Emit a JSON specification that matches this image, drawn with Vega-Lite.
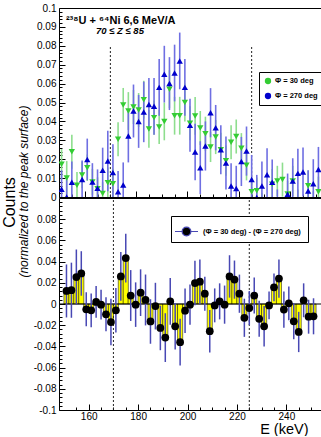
{
  "$schema": "https://vega.github.io/schema/vega-lite/v6.json",
  "padding": {"left": 0, "top": 2, "right": 0, "bottom": 0},
  "spacing": 1,
  "bounds": "flush",
  "background": "white",
  "config": {
    "view": {"stroke": "black", "strokeWidth": 1},
    "axis": {
      "labelFont": "Liberation Sans",
      "labelFontSize": 10,
      "labelColor": "black",
      "domainColor": "black",
      "domainWidth": 1,
      "tickColor": "black",
      "tickWidth": 1,
      "titleFont": "Liberation Sans",
      "titleColor": "black",
      "titleFontWeight": "normal",
      "labelOverlap": false,
      "labelFlush": false,
      "grid": false
    },
    "legend": {
      "labelFont": "Liberation Sans",
      "labelFontWeight": "bold",
      "labelColor": "black",
      "strokeColor": "black",
      "fillColor": "white"
    }
  },
  "datasets": {
    "spectra": [
      {"E": 151, "phi": "Φ = 30 deg", "v": 0.0173, "err": 0.008},
      {"E": 153, "phi": "Φ = 30 deg", "v": 0.0100, "err": 0.009},
      {"E": 155, "phi": "Φ = 30 deg", "v": 0.0240, "err": 0.009},
      {"E": 157, "phi": "Φ = 30 deg", "v": 0.0062, "err": 0.007},
      {"E": 159, "phi": "Φ = 30 deg", "v": 0.0116, "err": 0.007},
      {"E": 161, "phi": "Φ = 30 deg", "v": 0.0155, "err": 0.007},
      {"E": 163, "phi": "Φ = 30 deg", "v": 0.0079, "err": 0.007},
      {"E": 165, "phi": "Φ = 30 deg", "v": 0.0044, "err": 0.006},
      {"E": 167, "phi": "Φ = 30 deg", "v": 0.0018, "err": 0.006},
      {"E": 169, "phi": "Φ = 30 deg", "v": 0.0076, "err": 0.008},
      {"E": 171, "phi": "Φ = 30 deg", "v": 0.0070, "err": 0.008},
      {"E": 173, "phi": "Φ = 30 deg", "v": 0.0305, "err": 0.009},
      {"E": 175, "phi": "Φ = 30 deg", "v": 0.0487, "err": 0.009},
      {"E": 177, "phi": "Φ = 30 deg", "v": 0.0455, "err": 0.010},
      {"E": 179, "phi": "Φ = 30 deg", "v": 0.0476, "err": 0.009},
      {"E": 181, "phi": "Φ = 30 deg", "v": 0.0460, "err": 0.009},
      {"E": 183, "phi": "Φ = 30 deg", "v": 0.0515, "err": 0.010},
      {"E": 185, "phi": "Φ = 30 deg", "v": 0.0360, "err": 0.010},
      {"E": 187, "phi": "Φ = 30 deg", "v": 0.0420, "err": 0.009},
      {"E": 189, "phi": "Φ = 30 deg", "v": 0.0370, "err": 0.009},
      {"E": 191, "phi": "Φ = 30 deg", "v": 0.0400, "err": 0.010},
      {"E": 193, "phi": "Φ = 30 deg", "v": 0.0570, "err": 0.010},
      {"E": 195, "phi": "Φ = 30 deg", "v": 0.0430, "err": 0.010},
      {"E": 197, "phi": "Φ = 30 deg", "v": 0.0430, "err": 0.010},
      {"E": 199, "phi": "Φ = 30 deg", "v": 0.0500, "err": 0.010},
      {"E": 201, "phi": "Φ = 30 deg", "v": 0.0390, "err": 0.009},
      {"E": 203, "phi": "Φ = 30 deg", "v": 0.0429, "err": 0.010},
      {"E": 205, "phi": "Φ = 30 deg", "v": 0.0365, "err": 0.009},
      {"E": 207, "phi": "Φ = 30 deg", "v": 0.0335, "err": 0.009},
      {"E": 209, "phi": "Φ = 30 deg", "v": 0.0265, "err": 0.008},
      {"E": 211, "phi": "Φ = 30 deg", "v": 0.0317, "err": 0.009},
      {"E": 213, "phi": "Φ = 30 deg", "v": 0.0250, "err": 0.009},
      {"E": 215, "phi": "Φ = 30 deg", "v": 0.0192, "err": 0.008},
      {"E": 217, "phi": "Φ = 30 deg", "v": 0.0290, "err": 0.009},
      {"E": 219, "phi": "Φ = 30 deg", "v": 0.0320, "err": 0.009},
      {"E": 221, "phi": "Φ = 30 deg", "v": 0.0258, "err": 0.008},
      {"E": 223, "phi": "Φ = 30 deg", "v": 0.0168, "err": 0.008},
      {"E": 225, "phi": "Φ = 30 deg", "v": 0.0028, "err": 0.007},
      {"E": 227, "phi": "Φ = 30 deg", "v": 0.0033, "err": 0.007},
      {"E": 229, "phi": "Φ = 30 deg", "v": -0.0060, "err": 0.008},
      {"E": 231, "phi": "Φ = 30 deg", "v": -0.0080, "err": 0.008},
      {"E": 233, "phi": "Φ = 30 deg", "v": 0.0068, "err": 0.008},
      {"E": 235, "phi": "Φ = 30 deg", "v": 0.0085, "err": 0.008},
      {"E": 237, "phi": "Φ = 30 deg", "v": 0.0092, "err": 0.009},
      {"E": 239, "phi": "Φ = 30 deg", "v": 0.0016, "err": 0.007},
      {"E": 241, "phi": "Φ = 30 deg", "v": 0.0085, "err": 0.008},
      {"E": 243, "phi": "Φ = 30 deg", "v": -0.0040, "err": 0.008},
      {"E": 245, "phi": "Φ = 30 deg", "v": -0.0120, "err": 0.008},
      {"E": 247, "phi": "Φ = 30 deg", "v": 0.0060, "err": 0.008},
      {"E": 249, "phi": "Φ = 30 deg", "v": -0.0050, "err": 0.008},
      {"E": 251, "phi": "Φ = 30 deg", "v": 0.0028, "err": 0.008},
      {"E": 151, "phi": "Φ = 270 deg", "v": 0.0041, "err": 0.010},
      {"E": 153, "phi": "Φ = 270 deg", "v": 0.0000, "err": 0.010},
      {"E": 155, "phi": "Φ = 270 deg", "v": 0.0078, "err": 0.011},
      {"E": 157, "phi": "Φ = 270 deg", "v": -0.0120, "err": 0.010},
      {"E": 159, "phi": "Φ = 270 deg", "v": 0.0093, "err": 0.010},
      {"E": 161, "phi": "Φ = 270 deg", "v": 0.0199, "err": 0.011},
      {"E": 163, "phi": "Φ = 270 deg", "v": 0.0079, "err": 0.010},
      {"E": 165, "phi": "Φ = 270 deg", "v": 0.0046, "err": 0.010},
      {"E": 167, "phi": "Φ = 270 deg", "v": 0.0141, "err": 0.012},
      {"E": 169, "phi": "Φ = 270 deg", "v": 0.0190, "err": 0.016},
      {"E": 171, "phi": "Φ = 270 deg", "v": 0.0129, "err": 0.015},
      {"E": 173, "phi": "Φ = 270 deg", "v": 0.0028, "err": 0.011},
      {"E": 175, "phi": "Φ = 270 deg", "v": 0.0063, "err": 0.012},
      {"E": 177, "phi": "Φ = 270 deg", "v": 0.0323, "err": 0.014},
      {"E": 179, "phi": "Φ = 270 deg", "v": 0.0455, "err": 0.014},
      {"E": 181, "phi": "Φ = 270 deg", "v": 0.0400, "err": 0.014},
      {"E": 183, "phi": "Φ = 270 deg", "v": 0.0450, "err": 0.016},
      {"E": 185, "phi": "Φ = 270 deg", "v": 0.0490, "err": 0.014},
      {"E": 187, "phi": "Φ = 270 deg", "v": 0.0480, "err": 0.015},
      {"E": 189, "phi": "Φ = 270 deg", "v": 0.0580, "err": 0.015},
      {"E": 191, "phi": "Φ = 270 deg", "v": 0.0650, "err": 0.015},
      {"E": 193, "phi": "Φ = 270 deg", "v": 0.0600, "err": 0.014},
      {"E": 195, "phi": "Φ = 270 deg", "v": 0.0656, "err": 0.015},
      {"E": 197, "phi": "Φ = 270 deg", "v": 0.0720, "err": 0.015},
      {"E": 199, "phi": "Φ = 270 deg", "v": 0.0580, "err": 0.015},
      {"E": 201, "phi": "Φ = 270 deg", "v": 0.0380, "err": 0.014},
      {"E": 203, "phi": "Φ = 270 deg", "v": 0.0238, "err": 0.015},
      {"E": 205, "phi": "Φ = 270 deg", "v": 0.0155, "err": 0.014},
      {"E": 207, "phi": "Φ = 270 deg", "v": 0.0270, "err": 0.013},
      {"E": 209, "phi": "Φ = 270 deg", "v": 0.0446, "err": 0.013},
      {"E": 211, "phi": "Φ = 270 deg", "v": 0.0367, "err": 0.012},
      {"E": 213, "phi": "Φ = 270 deg", "v": 0.0250, "err": 0.013},
      {"E": 215, "phi": "Φ = 270 deg", "v": 0.0180, "err": 0.014},
      {"E": 217, "phi": "Φ = 270 deg", "v": 0.0058, "err": 0.012},
      {"E": 219, "phi": "Φ = 270 deg", "v": 0.0045, "err": 0.012},
      {"E": 221, "phi": "Φ = 270 deg", "v": 0.0188, "err": 0.013},
      {"E": 223, "phi": "Φ = 270 deg", "v": 0.0243, "err": 0.013},
      {"E": 225, "phi": "Φ = 270 deg", "v": 0.0092, "err": 0.013},
      {"E": 227, "phi": "Φ = 270 deg", "v": -0.0003, "err": 0.012},
      {"E": 229, "phi": "Φ = 270 deg", "v": 0.0058, "err": 0.013},
      {"E": 231, "phi": "Φ = 270 deg", "v": 0.0118, "err": 0.014},
      {"E": 233, "phi": "Φ = 270 deg", "v": 0.0078, "err": 0.012},
      {"E": 235, "phi": "Φ = 270 deg", "v": -0.0060, "err": 0.010},
      {"E": 237, "phi": "Φ = 270 deg", "v": -0.0130, "err": 0.010},
      {"E": 239, "phi": "Φ = 270 deg", "v": 0.0014, "err": 0.011},
      {"E": 241, "phi": "Φ = 270 deg", "v": 0.0085, "err": 0.012},
      {"E": 243, "phi": "Φ = 270 deg", "v": 0.0125, "err": 0.013},
      {"E": 245, "phi": "Φ = 270 deg", "v": 0.0132, "err": 0.013},
      {"E": 247, "phi": "Φ = 270 deg", "v": 0.0032, "err": 0.011},
      {"E": 249, "phi": "Φ = 270 deg", "v": 0.0070, "err": 0.013},
      {"E": 251, "phi": "Φ = 270 deg", "v": 0.0145, "err": 0.012}
    ],
    "difference": [
      {"E": 151, "d": 0.0123, "err": 0.025},
      {"E": 153, "d": 0.0130, "err": 0.026},
      {"E": 155, "d": 0.0254, "err": 0.026},
      {"E": 157, "d": 0.0288, "err": 0.021},
      {"E": 159, "d": -0.0050, "err": 0.016},
      {"E": 161, "d": -0.0060, "err": 0.016},
      {"E": 163, "d": 0.0020, "err": 0.015},
      {"E": 165, "d": -0.0006, "err": 0.014},
      {"E": 167, "d": -0.0097, "err": 0.016},
      {"E": 169, "d": -0.0170, "err": 0.022},
      {"E": 171, "d": -0.0060, "err": 0.021},
      {"E": 173, "d": 0.0260, "err": 0.023},
      {"E": 175, "d": 0.0433, "err": 0.023},
      {"E": 177, "d": 0.0080, "err": 0.024},
      {"E": 179, "d": -0.0006, "err": 0.021},
      {"E": 181, "d": 0.0107, "err": 0.022},
      {"E": 183, "d": 0.0038, "err": 0.024},
      {"E": 185, "d": -0.0165, "err": 0.021},
      {"E": 187, "d": -0.0020, "err": 0.022},
      {"E": 189, "d": -0.0226, "err": 0.021},
      {"E": 191, "d": -0.0317, "err": 0.023},
      {"E": 193, "d": 0.0025, "err": 0.022},
      {"E": 195, "d": -0.0210, "err": 0.022},
      {"E": 197, "d": -0.0360, "err": 0.022},
      {"E": 199, "d": -0.0063, "err": 0.021},
      {"E": 201, "d": -0.0006, "err": 0.019},
      {"E": 203, "d": 0.0198, "err": 0.021},
      {"E": 205, "d": 0.0210, "err": 0.021},
      {"E": 207, "d": 0.0097, "err": 0.016},
      {"E": 209, "d": -0.0257, "err": 0.020},
      {"E": 211, "d": -0.0013, "err": 0.016},
      {"E": 213, "d": 0.0025, "err": 0.017},
      {"E": 215, "d": -0.0006, "err": 0.018},
      {"E": 217, "d": 0.0260, "err": 0.020},
      {"E": 219, "d": 0.0230, "err": 0.018},
      {"E": 221, "d": 0.0097, "err": 0.018},
      {"E": 223, "d": -0.0130, "err": 0.018},
      {"E": 225, "d": -0.0038, "err": 0.016},
      {"E": 227, "d": 0.0080, "err": 0.017},
      {"E": 229, "d": -0.0140, "err": 0.017},
      {"E": 231, "d": -0.0210, "err": 0.019},
      {"E": 233, "d": -0.0013, "err": 0.013},
      {"E": 235, "d": 0.0157, "err": 0.013},
      {"E": 237, "d": 0.0240, "err": 0.018},
      {"E": 239, "d": -0.0053, "err": 0.017},
      {"E": 241, "d": 0.0006, "err": 0.016},
      {"E": 243, "d": -0.0163, "err": 0.017},
      {"E": 245, "d": -0.0264, "err": 0.019},
      {"E": 247, "d": 0.0035, "err": 0.016},
      {"E": 249, "d": -0.0120, "err": 0.016},
      {"E": 251, "d": -0.0116, "err": 0.017}
    ],
    "gates": [{"E": 170}, {"E": 225}]
  },
  "vconcat": [
    {
      "width": 262,
      "height": 189,
      "resolve": {"scale": {"color": "independent"}, "axis": {"x": "independent", "y": "independent"}},
      "layer": [
        {
          "data": {"name": "gates"},
          "mark": {"type": "rule", "strokeDash": [2, 2], "color": "#222", "strokeWidth": 1},
          "encoding": {
            "x": {
              "field": "E",
              "type": "quantitative",
              "axis": {"orient": "bottom", "values": [160, 180, 200, 220, 240], "tickSize": -6, "labels": false, "domain": false, "title": null}
            },
            "y": {
              "datum": 0,
              "axis": {"orient": "left", "values": [0.01, 0.02, 0.03, 0.04, 0.05, 0.06, 0.07, 0.08, 0.09], "tickSize": -6, "labels": false, "domain": false, "title": null}
            },
            "y2": {"datum": 0.08}
          }
        },
        {
          "data": {"name": "spectra"},
          "mark": {"type": "errorbar", "thickness": 1.6, "clip": true},
          "encoding": {
            "x": {
              "field": "E",
              "type": "quantitative",
              "axis": {"orient": "bottom", "values": [155, 165, 170, 175, 185, 190, 195, 205, 210, 215, 225, 230, 235, 245, 250], "tickSize": -3, "labels": false, "domain": false, "title": null}
            },
            "y": {
              "field": "v",
              "type": "quantitative",
              "axis": {
                "orient": "left",
                "values": [0.002, 0.004, 0.006, 0.008, 0.012, 0.014, 0.016, 0.018, 0.022, 0.024, 0.026, 0.028, 0.032, 0.034, 0.036, 0.038, 0.042, 0.044, 0.046, 0.048, 0.052, 0.054, 0.056, 0.058, 0.062, 0.064, 0.066, 0.068, 0.072, 0.074, 0.076, 0.078, 0.082, 0.084, 0.086, 0.088, 0.092, 0.094, 0.096, 0.098],
                "tickSize": -3,
                "labels": false,
                "domain": false,
                "title": null
              }
            },
            "yError": {"field": "err"},
            "color": {
              "field": "phi",
              "type": "nominal",
              "scale": {"domain": ["Φ = 30 deg", "Φ = 270 deg"], "range": ["#8ede8e", "#6f6fe2"]},
              "legend": null
            }
          }
        },
        {
          "data": {"name": "spectra"},
          "mark": {"type": "point", "filled": true, "size": 40, "opacity": 1, "clip": true},
          "encoding": {
            "x": {
              "field": "E",
              "type": "quantitative",
              "scale": {"domain": [150, 252], "nice": false, "zero": false},
              "axis": {"orient": "bottom", "ticks": false, "labels": false, "title": null}
            },
            "y": {
              "field": "v",
              "type": "quantitative",
              "scale": {"domain": [0, 0.1], "nice": false, "zero": false},
              "axis": {
                "orient": "left",
                "values": [0, 0.01, 0.02, 0.03, 0.04, 0.05, 0.06, 0.07, 0.08, 0.09, 0.1],
                "ticks": false,
                "labelExpr": "'' + datum.value",
                "labelPadding": 3,
                "title": "(normalized to the peak surface)",
                "titleFontSize": 12,
                "titleFontStyle": "italic",
                "titleAngle": -90,
                "titleAlign": "center",
                "titleBaseline": "middle",
                "titleX": -36,
                "titleY": 183
              }
            },
            "color": {
              "field": "phi",
              "type": "nominal",
              "scale": {"domain": ["Φ = 30 deg", "Φ = 270 deg"], "range": ["#33cc33", "#0000cc"]},
              "legend": {
                "orient": "none",
                "legendX": 200,
                "legendY": 64,
                "title": null,
                "labelFontSize": 7.5,
                "symbolSize": 40,
                "labelOffset": 3,
                "padding": 5,
                "rowPadding": 7
              }
            },
            "shape": {
              "field": "phi",
              "type": "nominal",
              "scale": {"domain": ["Φ = 30 deg", "Φ = 270 deg"], "range": ["triangle-down", "triangle-up"]}
            }
          }
        },
        {
          "data": {"values": [{}]},
          "mark": {"type": "text", "font": "Liberation Sans", "fontWeight": "bold", "fontSize": 11, "align": "left", "baseline": "alphabetic", "color": "black"},
          "encoding": {
            "x": {"datum": 152.7, "axis": null},
            "y": {"datum": 0.0915, "axis": null},
            "text": {"value": "²³⁸U + ⁶⁴Ni   6,6 MeV/A"}
          }
        },
        {
          "data": {"values": [{}]},
          "mark": {"type": "text", "font": "Liberation Sans", "fontWeight": "bold", "fontStyle": "italic", "fontSize": 9.5, "align": "left", "baseline": "alphabetic", "color": "black"},
          "encoding": {
            "x": {"datum": 164.4, "axis": null},
            "y": {"datum": 0.0862, "axis": null},
            "text": {"value": "70 ≤ Z ≤ 85"}
          }
        }
      ]
    },
    {
      "width": 262,
      "height": 212,
      "resolve": {"axis": {"x": "independent", "y": "independent"}},
      "layer": [
        {
          "data": {"name": "difference"},
          "mark": {"type": "bar", "width": 5.14, "fill": "#ffff00", "stroke": "black", "strokeWidth": 0.5},
          "encoding": {
            "x": {
              "field": "E",
              "type": "quantitative",
              "scale": {"domain": [150, 252], "nice": false, "zero": false},
              "axis": {
                "orient": "bottom",
                "values": [160, 180, 200, 220, 240],
                "ticks": false,
                "labelExpr": "'' + datum.value",
                "labelPadding": 1,
                "title": "E (keV)",
                "titleFontSize": 14.5,
                "titleAlign": "right",
                "titleBaseline": "alphabetic",
                "titleX": 249,
                "titleY": 23
              }
            },
            "y": {
              "field": "d",
              "type": "quantitative",
              "scale": {"domain": [-0.1, 0.1], "nice": false, "zero": false},
              "axis": {
                "orient": "left",
                "values": [-0.1, -0.08, -0.06, -0.04, -0.02, 0, 0.02, 0.04, 0.06, 0.08],
                "ticks": false,
                "labelExpr": "'' + datum.value",
                "labelPadding": 3,
                "title": "Counts",
                "titleFontSize": 16,
                "titleAngle": -90,
                "titleAlign": "center",
                "titleBaseline": "middle",
                "titleX": -50,
                "titleY": 4
              }
            }
          }
        },
        {
          "data": {"values": [{}]},
          "mark": {"type": "rule", "color": "black", "strokeWidth": 1},
          "encoding": {"y": {"datum": 0, "axis": null}}
        },
        {
          "data": {"name": "gates"},
          "mark": {"type": "rule", "strokeDash": [2, 2], "color": "#222", "strokeWidth": 1},
          "encoding": {
            "x": {
              "field": "E",
              "type": "quantitative",
              "axis": {"orient": "bottom", "values": [160, 180, 200, 220, 240], "tickSize": -6, "labels": false, "domain": false, "title": null}
            },
            "y": {
              "datum": -0.1,
              "axis": {"orient": "left", "values": [-0.08, -0.06, -0.04, -0.02, 0, 0.02, 0.04, 0.06, 0.08], "tickSize": -6, "labels": false, "domain": false, "title": null}
            },
            "y2": {"datum": 0.1}
          }
        },
        {
          "data": {"name": "difference"},
          "mark": {"type": "errorbar", "thickness": 1.5, "color": "#4848b4"},
          "encoding": {
            "x": {
              "field": "E",
              "type": "quantitative",
              "axis": {"orient": "bottom", "values": [155, 165, 170, 175, 185, 190, 195, 205, 210, 215, 225, 230, 235, 245, 250], "tickSize": -3, "labels": false, "domain": false, "title": null}
            },
            "y": {
              "field": "d",
              "type": "quantitative",
              "axis": {
                "orient": "left",
                "values": [-0.096, -0.092, -0.088, -0.084, -0.076, -0.072, -0.068, -0.064, -0.056, -0.052, -0.048, -0.044, -0.036, -0.032, -0.028, -0.024, -0.016, -0.012, -0.008, -0.004, 0.004, 0.008, 0.012, 0.016, 0.024, 0.028, 0.032, 0.036, 0.044, 0.048, 0.052, 0.056, 0.064, 0.068, 0.072, 0.076, 0.084, 0.088, 0.092, 0.096],
                "tickSize": -3,
                "labels": false,
                "domain": false,
                "title": null
              }
            },
            "yError": {"field": "err"}
          }
        },
        {
          "data": {"name": "difference"},
          "mark": {"type": "point", "filled": true, "size": 60, "opacity": 1},
          "encoding": {
            "x": {"field": "E", "type": "quantitative", "axis": null},
            "y": {"field": "d", "type": "quantitative", "axis": null},
            "color": {
              "datum": "(Φ = 30 deg)  -  (Φ = 270 deg)",
              "scale": {"range": ["black"]},
              "legend": {
                "orient": "none",
                "legendX": 112,
                "legendY": 208,
                "title": null,
                "labelFontSize": 7.5,
                "symbolType": "M-0.38,0A0.38,0.38 0 1,1 0.38,0A0.38,0.38 0 1,1 -0.38,0Z M-1,0H-0.38 M0.38,0H1",
                "symbolSize": 529,
                "symbolStrokeColor": "#4848b4",
                "symbolStrokeWidth": 1.2,
                "labelOffset": 4,
                "padding": 3
              }
            }
          }
        }
      ]
    }
  ]
}
